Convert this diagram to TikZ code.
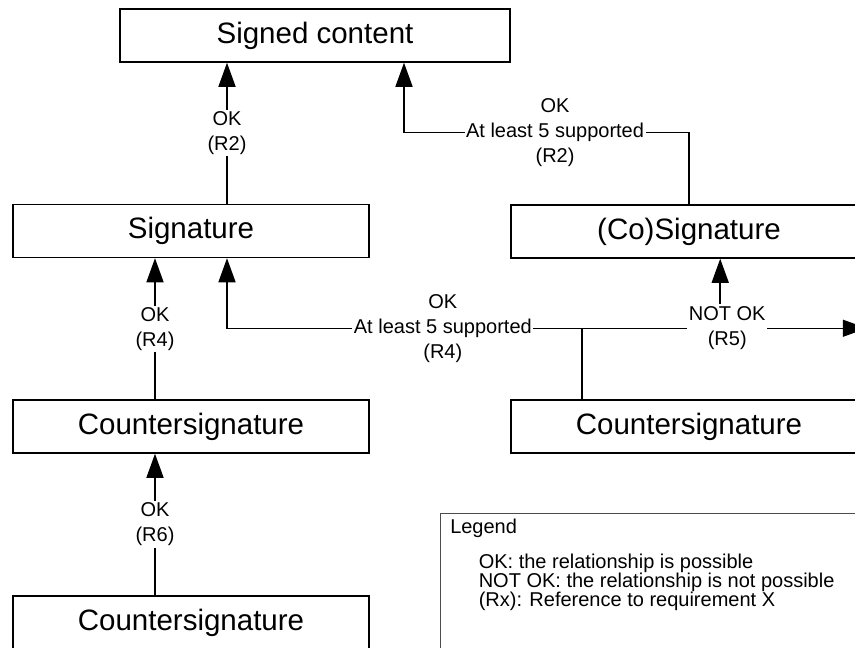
\documentclass[tikz,border=0pt]{standalone}
\usepackage{fontspec}
\setmainfont{Liberation Sans}
\usetikzlibrary{arrows.meta, calc}

\begin{document}
\begin{tikzpicture}[x=1pt, y=-1pt, >={Triangle[width=17pt,length=24pt]}, line width=1.5pt,
		box/.style={draw, minimum width=356pt, minimum height=53pt, inner sep=0pt, font=\fontsize{29.5}{34}\selectfont},
		lbl/.style={fill=white, inner sep=1.5pt, align=center, font=\fontsize{20}{25}\selectfont}]

		\useasboundingbox (0,0) rectangle (855,648);
		\clip (0,0) rectangle (855,648);

		% Row 0: Signed content
		\node[box, minimum width=390pt] (content) at (315, 35.5) {Signed content};

		% Row 1: Signatures
		\node[box] (sig) at (191, 231) {Signature};
		\node[box] (cosig) at (689, 231.5) {(Co)Signature};

		% Row 2: Countersignatures
		\node[box] (csigL) at (191, 426.5) {Countersignature};
		\node[box] (csigR) at (689, 426.5) {Countersignature};

		% Row 3: Countersignature of countersignature
		\node[box] (csigB) at (191, 622.5) {Countersignature};

		% --- Connections ---

		% Left column
		\draw[->] ([xshift=36pt]sig.north) coordinate (s2) -- node[lbl]{OK\\(R2)} (s2 |- content.south);
		\draw[->] ([xshift=-36pt]csigL.north) -- node[lbl]{OK\\(R4)} ([xshift=-36pt]sig.south);
		\draw[->] ([xshift=-36pt]csigB.north) -- node[lbl]{OK\\(R6)} ([xshift=-36pt]csigL.south);

		% (Co)Signature to Signed content
		\draw[->] (cosig.north) -- ++(0,-72) -| node[lbl, pos=0.235]{OK\\At least 5 supported\\(R2)} ([xshift=89pt]content.south);

		% Countersignature (right) to Signature
		\draw[->] ([xshift=-107pt]csigR.north) -- ++(0,-71) coordinate (jn) -| node[lbl, pos=0.196]{OK\\At least 5 supported\\(R4)} ([xshift=36pt]sig.south);

		% Countersignature (right) to (Co)Signature
		\coordinate (rEnd) at ([xshift=-1pt]csigR.east |- jn);
		\draw[->] (jn) -- node[lbl, pos=0.51] (r5) {NOT OK\\(R5)} (rEnd);
		\draw[->] ([xshift=-7pt]r5.north) coordinate (r5t) -- (r5t |- cosig.south);

		% Legend
		\node[draw=black!70, line width=1pt, anchor=north west, minimum width=430pt, minimum height=160pt] (legend) at (440, 513) {};
		\node[lbl, fill=none, anchor=west] (legT) at ([xshift=8pt, yshift=-15pt]legend.north west) {Legend};
		\node[anchor=north west, align=left, inner sep=0pt, font=\fontsize{20}{19}\selectfont] (legI) at ([xshift=38pt, yshift=-40pt]legend.north west)
			{OK: the relationship is possible\\NOT OK: the relationship is not possible\\(Rx): Reference to requirement X};

	\end{tikzpicture}
\end{document}
